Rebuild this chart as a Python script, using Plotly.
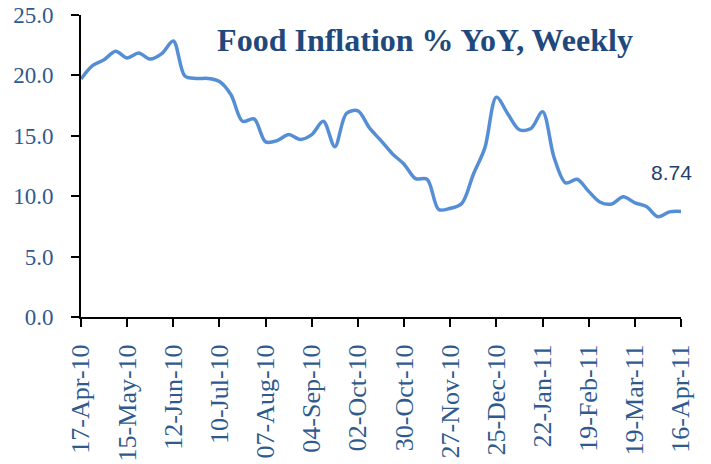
import pandas as pd
import plotly.graph_objects as go

# Weekly food inflation (% YoY), weeks ending 17-Apr-10 ... 16-Apr-11
start_date = "2010-04-17"
food_inflation = [
    19.7, 20.8, 21.3, 22.0, 21.45, 21.85, 21.35, 21.8, 22.85, 19.95,
    19.75, 19.75, 19.5, 18.4, 16.2, 16.4, 14.5, 14.6, 15.1, 14.7,
    15.1, 16.2, 14.1, 16.85, 17.07, 15.65, 14.6, 13.5, 12.65, 11.45,
    11.4, 8.9, 9.0, 9.4, 11.8, 14.0, 18.2, 16.8, 15.5, 15.6,
    17.0, 13.2, 11.1, 11.4, 10.4, 9.5, 9.35, 9.95, 9.45, 9.15,
    8.3, 8.7, 8.74,
]
tick_labels = [
    "17-Apr-10", "15-May-10", "12-Jun-10", "10-Jul-10", "07-Aug-10",
    "04-Sep-10", "02-Oct-10", "30-Oct-10", "27-Nov-10", "25-Dec-10",
    "22-Jan-11", "19-Feb-11", "19-Mar-11", "16-Apr-11",
]
y_ticks = [0, 5, 10, 15, 20, 25]
title_text = "Food Inflation % YoY, Weekly"

weeks = pd.date_range(start_date, periods=len(food_inflation), freq="7D")

label_color = "#2F5A8E"
serif = "Liberation Serif, Times New Roman, serif"

W, H = 711, 464

fig = go.Figure()
fig.add_trace(go.Scatter(
    x=weeks, y=food_inflation, mode="lines",
    line=dict(color="#558ED5", width=3.5, shape="spline", smoothing=0.9),
    showlegend=False, hoverinfo="x+y",
))

fig.add_annotation(
    x=weeks[-1], y=food_inflation[-1], text=f"{food_inflation[-1]:.2f}",
    showarrow=False, xanchor="center", yanchor="middle",
    xshift=-10, yshift=39,
    font=dict(family="Liberation Sans, Arial, sans-serif", size=21, color="#1F3F6E"),
)

fig.update_layout(
    width=W, height=H,
    margin=dict(l=81, r=W - 680.7, t=15, b=H - 317.5, pad=0),
    paper_bgcolor="white", plot_bgcolor="white",
    title=dict(
        text=f"<b>{title_text}</b>", x=425 / W, xanchor="center", xref="container",
        y=1 - 40 / H, yanchor="middle", yref="container",
        font=dict(family=serif, size=32, color="#1F497D"),
    ),
    xaxis=dict(
        type="date", range=[weeks[0], weeks[-1]], automargin=False,
        ticklabeloverflow="allow", ticklabelstandoff=7,
        tickvals=list(weeks[::4]), ticktext=tick_labels,
        tickangle=-90, ticks="outside", ticklen=8, tickwidth=2, tickcolor="black",
        showline=True, linecolor="black", linewidth=2,
        showgrid=False, zeroline=False,
        tickfont=dict(family=serif, size=26, color=label_color),
    ),
    yaxis=dict(
        range=[0, 25], tickvals=y_ticks, ticktext=[f"{v:.1f}" for v in y_ticks],
        automargin=False, ticklabeloverflow="allow", ticklabelstandoff=13,
        ticks="outside", ticklen=8, tickwidth=2, tickcolor="black",
        showline=True, linecolor="black", linewidth=2,
        showgrid=False, zeroline=False,
        tickfont=dict(family=serif, size=23, color=label_color),
    ),
)

fig.write_html(
    "out.html",
    config={"displayModeBar": False},
    post_script="document.body.style.margin='0';",
)
